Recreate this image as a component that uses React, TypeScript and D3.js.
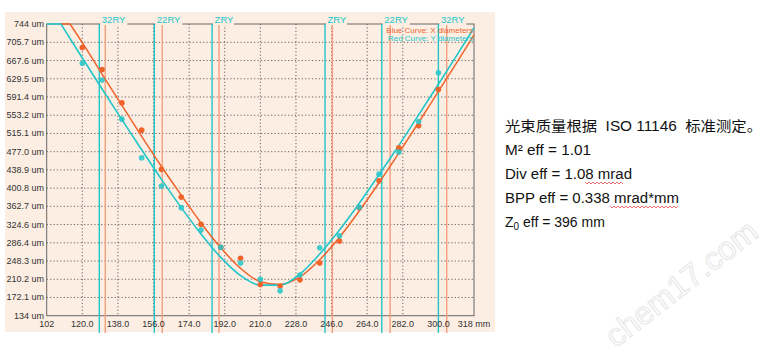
import * as d3 from "d3";

// measurement positions (mm) and measured diameters (um)
const zPositions = [120, 130, 140, 150, 160, 170, 180, 190, 200, 210, 220, 230, 240, 250, 260, 270, 280, 290, 300];
const xDiameters = [695, 649, 579, 522, 440, 382, 325, 277, 254, 199, 196, 209, 244, 290, 359, 416, 485, 531, 607];
const yDiameters = [662, 627, 545, 464, 405, 360, 313, 277, 244, 210, 186, 219, 276, 301, 361, 430, 476, 540, 642];

// fitted curves
const xFitZ = [113.8, 120, 130, 140, 150, 160, 170, 180, 190, 200, 210, 220, 230, 240, 250, 260, 270, 280, 290, 300, 310, 318];
const xFitD = [744, 705, 639, 574, 509, 446, 386, 328, 276, 233, 205, 199, 215, 251, 298, 353, 412, 474, 538, 603, 668, 721];
const yFitZ = [109.2, 120, 130, 140, 150, 160, 170, 180, 190, 200, 210, 220, 230, 240, 250, 260, 270, 280, 290, 300, 310, 318];
const yFitD = [744, 673, 608, 544, 481, 419, 360, 305, 256, 218, 198, 198, 221, 263, 313, 369, 429, 490, 554, 618, 683, 736];

// rayleigh range markers
const rangeLabels = ["32RY", "22RY", "ZRY", "ZRY", "22RY", "32RY"];
const yRangeZ = [128.6, 156.4, 185.6, 242.7, 271.4, 300.0];
const xRangeZ = [131.6, 160.4, 189.1, 246.4, 275.6, 304.2];

const xTicks = [102, 120, 138, 156, 174, 192, 210, 228, 246, 264, 282, 300, 318];
const xTickLabels = ["102", "120.0", "138.0", "156.0", "174.0", "192.0", "210.0", "228.0", "246.0", "264.0", "282.0", "300.0", "318 mm"];
const yTicks = [134, 172.1, 210.2, 248.3, 286.4, 324.6, 362.7, 400.8, 438.9, 477.0, 515.1, 553.2, 591.4, 629.5, 667.6, 705.7, 744];
const yTickLabels = ["134 um", "172.1 um", "210.2 um", "248.3 um", "286.4 um", "324.6 um", "362.7 um", "400.8 um", "438.9 um", "477.0 um", "515.1 um", "553.2 um", "591.4 um", "629.5 um", "667.6 um", "705.7 um", "744 um"];

const notes = ["光束质量根据  ISO 11146  标准测定。", "M² eff = 1.01", "Div eff = 1.08 mrad", "BPP eff = 0.338 mrad*mm"];
const noteWidths = [257, 86, 127, 174];

const ORANGE = "#f0642c";
const CYAN = "#22c6c8";
const ORANGE_LINE = "#f2a07c";
const PEACH = "#fdeee4";

export default function App() {
  const width = 767;
  const height = 354;
  const left = 46.7, right = 474, top = 24, bottom = 315.7;

  const x = d3.scaleLinear().domain([102, 318]).range([left, right]);
  const y = d3.scaleLinear().domain([134, 744]).range([bottom, top]);

  const line = d3
    .line<[number, number]>()
    .x((d) => x(d[0]))
    .y((d) => y(d[1]))
    .curve(d3.curveMonotoneX);

  const xFit = xFitZ.map((z, i) => [z, xFitD[i]] as [number, number]);
  const yFit = yFitZ.map((z, i) => [z, yFitD[i]] as [number, number]);

  const labelFont = "Arial, 'Liberation Sans', sans-serif";
  const noteFont = "'Liberation Sans', 'Noto Sans CJK SC', sans-serif";

  return (
    <svg width={width} height={height} style={{ position: "absolute", left: 0, top: 0, background: "#fff" }}>
      <rect x={5} y={12} width={490} height={320} fill={PEACH} />

      {/* grid */}
      {yTicks.slice(1, -1).map((t) => (
        <line key={"gy" + t} x1={left} x2={right} y1={y(t)} y2={y(t)} stroke="#555" strokeWidth={0.9} strokeDasharray="1.2,2.2" />
      ))}
      {xTicks.slice(1, -1).map((t) => (
        <line key={"gx" + t} x1={x(t)} x2={x(t)} y1={top} y2={bottom} stroke="#555" strokeWidth={0.9} strokeDasharray="1.2,2.2" />
      ))}

      {/* frame */}
      <rect x={left} y={top} width={right - left} height={bottom - top} fill="none" stroke="#666" strokeWidth={1} />

      {/* range lines */}
      {xRangeZ.map((z, i) => (
        <line key={"xr" + i} x1={x(z)} x2={x(z)} y1={top} y2={333} stroke={ORANGE_LINE} strokeWidth={1.4} />
      ))}
      {yRangeZ.map((z, i) => (
        <line key={"yr" + i} x1={x(z)} x2={x(z)} y1={top} y2={333} stroke={CYAN} strokeWidth={1.4} />
      ))}
      {yRangeZ.map((z, i) => (
        <g key={"rl" + i}>
          <rect x={x(z) + 1} y={14} width={rangeLabels[i].length * 6 + 3} height={11} fill={PEACH} />
          <text x={x(z) + 2.5} y={22.5} fontSize={9.5} fontFamily={labelFont} fill={CYAN}>
            {rangeLabels[i]}
          </text>
        </g>
      ))}

      {/* fitted curves */}
      <line x1={left} x2={x(yFitZ[0])} y1={y(744)} y2={y(744)} stroke={CYAN} strokeWidth={1.6} />
      <line x1={x(yFitZ[0])} x2={x(xFitZ[0])} y1={y(744)} y2={y(744)} stroke={ORANGE} strokeWidth={1.6} />
      <path d={line(xFit) ?? ""} fill="none" stroke={ORANGE} strokeWidth={1.5} />
      <path d={line(yFit) ?? ""} fill="none" stroke={CYAN} strokeWidth={1.6} />

      {/* measured points */}
      {zPositions.map((z, i) => (
        <circle key={"xd" + i} cx={x(z)} cy={y(xDiameters[i])} r={2.8} fill={ORANGE} />
      ))}
      {zPositions.map((z, i) => (
        <circle key={"yd" + i} cx={x(z)} cy={y(yDiameters[i])} r={2.8} fill={CYAN} opacity={0.85} />
      ))}

      {/* legend */}
      <text x={473} y={32.5} textAnchor="end" fontSize={8} fontFamily={labelFont} fill={ORANGE}>
        Blue Curve: X diameters
      </text>
      <text x={473} y={40.5} textAnchor="end" fontSize={8} fontFamily={labelFont} fill={CYAN}>
        Red Curve: Y diameters
      </text>

      {/* axes labels */}
      {yTicks.map((t, i) => (
        <text key={"yl" + t} x={44} y={y(t) + 3} textAnchor="end" fontSize={9} fontFamily={labelFont} fill="#333">
          {yTickLabels[i]}
        </text>
      ))}
      {xTicks.map((t, i) => (
        <text key={"xl" + t} x={x(t)} y={327} textAnchor="middle" fontSize={9} fontFamily={labelFont} fill="#333">
          {xTickLabels[i]}
        </text>
      ))}

      {/* notes */}
      {notes.map((n, i) => (
        <text
          key={"n" + i}
          x={505}
          y={131 + i * 24}
          fontSize={14}
          fontFamily={noteFont}
          fill="#111"
          textLength={noteWidths[i]}
          lengthAdjust="spacingAndGlyphs"
          style={{ whiteSpace: "pre" }}
        >
          {n}
        </text>
      ))}
      <text x={505} y={227} fontSize={14} fontFamily={noteFont} fill="#111">
        Z
        <tspan fontSize={10} dy={3}>0</tspan>
        <tspan dy={-3}> eff = 396 mm</tspan>
      </text>
      <path d="M585,182 l2,2 l2,-2 l2,2 l2,-2 l2,2 l2,-2 l2,2 l2,-2 l2,2 l2,-2 l2,2 l2,-2 l2,2 l2,-2 l2,2 l2,-2 l2,2 l2,-2 l2,2" fill="none" stroke="#e03030" strokeWidth={0.7} />
      <path d="M610,206 l2,2 l2,-2 l2,2 l2,-2 l2,2 l2,-2 l2,2 l2,-2 l2,2 l2,-2 l2,2 l2,-2 l2,2 l2,-2 l2,2 l2,-2 l2,2 l2,-2 l2,2 l2,-2 l2,2 l2,-2 l2,2 l2,-2 l2,2 l2,-2 l2,2 l2,-2 l2,2 l2,-2 l2,2 l2,-2 l2,2 l2,-2" fill="none" stroke="#e03030" strokeWidth={0.7} />

      {/* watermark */}
      <text
        x={0}
        y={0}
        transform="translate(688,292) rotate(-38)"
        textAnchor="middle"
        fontSize={32}
        fontFamily={labelFont}
        fill="none"
        stroke="#e6e6e6"
        strokeWidth={1}
      >
        chem17.com
      </text>
    </svg>
  );
}
